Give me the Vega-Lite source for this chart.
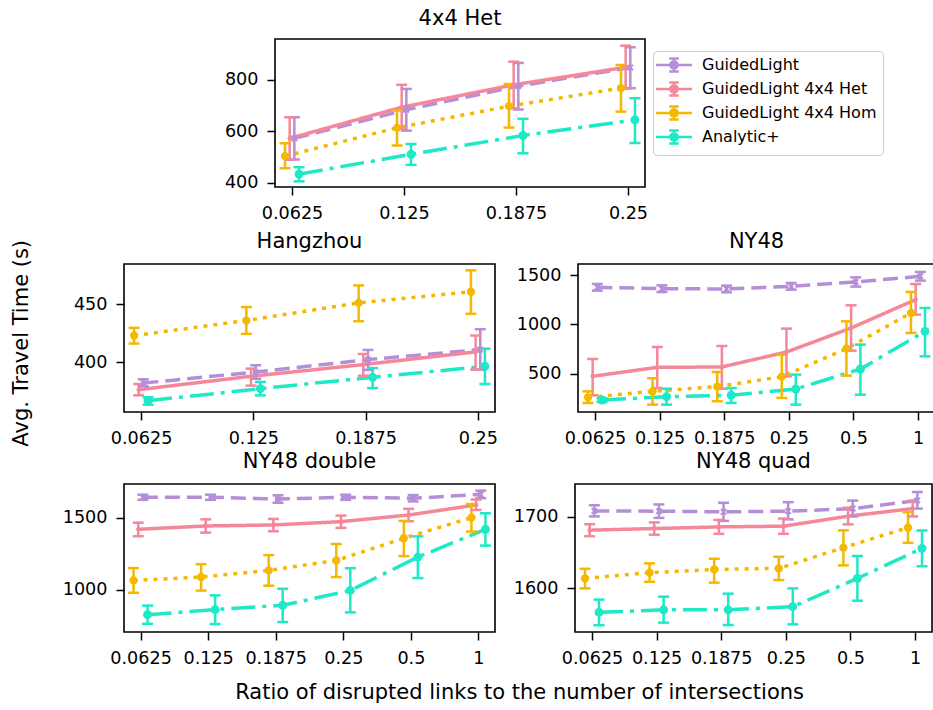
{
  "$schema": "https://vega.github.io/schema/vega-lite/v6.json",
  "padding": {"left": 11, "top": 7, "right": 0, "bottom": 5},
  "config": {
    "font": "DejaVu Sans",
    "view": {"stroke": "black", "strokeWidth": 1.6},
    "axis": {"grid": false, "domain": false, "tickColor": "black", "tickSize": 8, "tickWidth": 1.5, "labelColor": "black", "labelFontSize": 17.6, "labelPadding": 9, "titleColor": "black", "titleFontSize": 21, "titleFontWeight": "normal", "labelOverlap": false},
    "axisX": {"labelAngle": 0},
    "axisY": {"format": "d"},
    "title": {"fontSize": 21, "fontWeight": "normal", "color": "black", "offset": 10, "frame": "group"}
  },
  "title": {"text": "Ratio of disrupted links to the number of intersections", "orient": "bottom", "anchor": "middle", "frame": "bounds", "offset": 15, "dx": 46, "fontSize": 21, "fontWeight": "normal", "color": "black"},
  "resolve": {"legend": {"color": "independent"}},
  "data": {"values": [
    {"p": "4x4 Het", "m": "GuidedLight", "r": 0.0625, "y": 573, "lo": 491, "hi": 655},
    {"p": "4x4 Het", "m": "GuidedLight", "r": 0.125, "y": 684, "lo": 603, "hi": 765},
    {"p": "4x4 Het", "m": "GuidedLight", "r": 0.1875, "y": 776, "lo": 685, "hi": 866},
    {"p": "4x4 Het", "m": "GuidedLight", "r": 0.25, "y": 848, "lo": 768, "hi": 927},
    {"p": "4x4 Het", "m": "GuidedLight 4x4 Het", "r": 0.0625, "y": 573, "lo": 490, "hi": 655},
    {"p": "4x4 Het", "m": "GuidedLight 4x4 Het", "r": 0.125, "y": 694, "lo": 610, "hi": 781},
    {"p": "4x4 Het", "m": "GuidedLight 4x4 Het", "r": 0.1875, "y": 781, "lo": 690, "hi": 871},
    {"p": "4x4 Het", "m": "GuidedLight 4x4 Het", "r": 0.25, "y": 849, "lo": 766, "hi": 933},
    {"p": "4x4 Het", "m": "GuidedLight 4x4 Hom", "r": 0.0625, "y": 504, "lo": 457, "hi": 554},
    {"p": "4x4 Het", "m": "GuidedLight 4x4 Hom", "r": 0.125, "y": 614, "lo": 545, "hi": 681},
    {"p": "4x4 Het", "m": "GuidedLight 4x4 Hom", "r": 0.1875, "y": 698, "lo": 615, "hi": 784},
    {"p": "4x4 Het", "m": "GuidedLight 4x4 Hom", "r": 0.25, "y": 768, "lo": 677, "hi": 858},
    {"p": "4x4 Het", "m": "Analytic+", "r": 0.0625, "y": 434, "lo": 406, "hi": 461},
    {"p": "4x4 Het", "m": "Analytic+", "r": 0.125, "y": 511, "lo": 470, "hi": 551},
    {"p": "4x4 Het", "m": "Analytic+", "r": 0.1875, "y": 584, "lo": 515, "hi": 649},
    {"p": "4x4 Het", "m": "Analytic+", "r": 0.25, "y": 645, "lo": 555, "hi": 729},

    {"p": "Hangzhou", "m": "GuidedLight", "r": 0.0625, "y": 382, "lo": 379.2, "hi": 385.3},
    {"p": "Hangzhou", "m": "GuidedLight", "r": 0.125, "y": 391.6, "lo": 385.8, "hi": 397.4},
    {"p": "Hangzhou", "m": "GuidedLight", "r": 0.1875, "y": 402.3, "lo": 393.4, "hi": 410.7},
    {"p": "Hangzhou", "m": "GuidedLight", "r": 0.25, "y": 411, "lo": 393.6, "hi": 428.6},
    {"p": "Hangzhou", "m": "GuidedLight 4x4 Het", "r": 0.0625, "y": 376.3, "lo": 371.4, "hi": 381.2},
    {"p": "Hangzhou", "m": "GuidedLight 4x4 Het", "r": 0.125, "y": 387.9, "lo": 379.8, "hi": 394.5},
    {"p": "Hangzhou", "m": "GuidedLight 4x4 Het", "r": 0.1875, "y": 398, "lo": 388.4, "hi": 407.2},
    {"p": "Hangzhou", "m": "GuidedLight 4x4 Het", "r": 0.25, "y": 409, "lo": 393.6, "hi": 423.1},
    {"p": "Hangzhou", "m": "GuidedLight 4x4 Hom", "r": 0.0625, "y": 423.1, "lo": 416.2, "hi": 429.8},
    {"p": "Hangzhou", "m": "GuidedLight 4x4 Hom", "r": 0.125, "y": 436.1, "lo": 424.6, "hi": 447.7},
    {"p": "Hangzhou", "m": "GuidedLight 4x4 Hom", "r": 0.1875, "y": 451.4, "lo": 435.5, "hi": 466.5},
    {"p": "Hangzhou", "m": "GuidedLight 4x4 Hom", "r": 0.25, "y": 461, "lo": 441.9, "hi": 479.5},
    {"p": "Hangzhou", "m": "Analytic+", "r": 0.0625, "y": 366.8, "lo": 363.3, "hi": 369.7},
    {"p": "Hangzhou", "m": "Analytic+", "r": 0.125, "y": 377.2, "lo": 371.4, "hi": 383},
    {"p": "Hangzhou", "m": "Analytic+", "r": 0.1875, "y": 387, "lo": 377.7, "hi": 395},
    {"p": "Hangzhou", "m": "Analytic+", "r": 0.25, "y": 396.5, "lo": 381.2, "hi": 411.8},

    {"p": "NY48", "m": "GuidedLight", "r": 0.0625, "y": 1378, "lo": 1344, "hi": 1412},
    {"p": "NY48", "m": "GuidedLight", "r": 0.125, "y": 1364, "lo": 1330, "hi": 1398},
    {"p": "NY48", "m": "GuidedLight", "r": 0.1875, "y": 1361, "lo": 1327, "hi": 1395},
    {"p": "NY48", "m": "GuidedLight", "r": 0.25, "y": 1388, "lo": 1354, "hi": 1422},
    {"p": "NY48", "m": "GuidedLight", "r": 0.5, "y": 1432, "lo": 1385, "hi": 1479},
    {"p": "NY48", "m": "GuidedLight", "r": 1, "y": 1490, "lo": 1446, "hi": 1534},
    {"p": "NY48", "m": "GuidedLight 4x4 Het", "r": 0.0625, "y": 473, "lo": 280, "hi": 649},
    {"p": "NY48", "m": "GuidedLight 4x4 Het", "r": 0.125, "y": 564, "lo": 354, "hi": 771},
    {"p": "NY48", "m": "GuidedLight 4x4 Het", "r": 0.1875, "y": 568, "lo": 347, "hi": 781},
    {"p": "NY48", "m": "GuidedLight 4x4 Het", "r": 0.25, "y": 720, "lo": 473, "hi": 958},
    {"p": "NY48", "m": "GuidedLight 4x4 Het", "r": 0.5, "y": 964, "lo": 734, "hi": 1195},
    {"p": "NY48", "m": "GuidedLight 4x4 Het", "r": 1, "y": 1253, "lo": 1100, "hi": 1412},
    {"p": "NY48", "m": "GuidedLight 4x4 Hom", "r": 0.0625, "y": 259, "lo": 202, "hi": 320},
    {"p": "NY48", "m": "GuidedLight 4x4 Hom", "r": 0.125, "y": 320, "lo": 185, "hi": 453},
    {"p": "NY48", "m": "GuidedLight 4x4 Hom", "r": 0.1875, "y": 368, "lo": 219, "hi": 517},
    {"p": "NY48", "m": "GuidedLight 4x4 Hom", "r": 0.25, "y": 469, "lo": 253, "hi": 693},
    {"p": "NY48", "m": "GuidedLight 4x4 Hom", "r": 0.5, "y": 754, "lo": 480, "hi": 1032},
    {"p": "NY48", "m": "GuidedLight 4x4 Hom", "r": 1, "y": 1117, "lo": 914, "hi": 1331},
    {"p": "NY48", "m": "Analytic+", "r": 0.0625, "y": 232, "lo": 212, "hi": 252},
    {"p": "NY48", "m": "Analytic+", "r": 0.125, "y": 266, "lo": 185, "hi": 347},
    {"p": "NY48", "m": "Analytic+", "r": 0.1875, "y": 280, "lo": 202, "hi": 354},
    {"p": "NY48", "m": "Analytic+", "r": 0.25, "y": 344, "lo": 185, "hi": 490},
    {"p": "NY48", "m": "Analytic+", "r": 0.5, "y": 547, "lo": 286, "hi": 795},
    {"p": "NY48", "m": "Analytic+", "r": 1, "y": 930, "lo": 676, "hi": 1168},

    {"p": "NY48 double", "m": "GuidedLight", "r": 0.0625, "y": 1641, "lo": 1623, "hi": 1659},
    {"p": "NY48 double", "m": "GuidedLight", "r": 0.125, "y": 1641, "lo": 1623, "hi": 1659},
    {"p": "NY48 double", "m": "GuidedLight", "r": 0.1875, "y": 1629, "lo": 1603, "hi": 1655},
    {"p": "NY48 double", "m": "GuidedLight", "r": 0.25, "y": 1641, "lo": 1623, "hi": 1659},
    {"p": "NY48 double", "m": "GuidedLight", "r": 0.5, "y": 1634, "lo": 1612, "hi": 1656},
    {"p": "NY48 double", "m": "GuidedLight", "r": 1, "y": 1661, "lo": 1635, "hi": 1687},
    {"p": "NY48 double", "m": "GuidedLight 4x4 Het", "r": 0.0625, "y": 1419, "lo": 1371, "hi": 1465},
    {"p": "NY48 double", "m": "GuidedLight 4x4 Het", "r": 0.125, "y": 1442, "lo": 1396, "hi": 1488},
    {"p": "NY48 double", "m": "GuidedLight 4x4 Het", "r": 0.1875, "y": 1449, "lo": 1405, "hi": 1491},
    {"p": "NY48 double", "m": "GuidedLight 4x4 Het", "r": 0.25, "y": 1472, "lo": 1429, "hi": 1514},
    {"p": "NY48 double", "m": "GuidedLight 4x4 Het", "r": 0.5, "y": 1518, "lo": 1475, "hi": 1561},
    {"p": "NY48 double", "m": "GuidedLight 4x4 Het", "r": 1, "y": 1588, "lo": 1553, "hi": 1625},
    {"p": "NY48 double", "m": "GuidedLight 4x4 Hom", "r": 0.0625, "y": 1065, "lo": 979, "hi": 1150},
    {"p": "NY48 double", "m": "GuidedLight 4x4 Hom", "r": 0.125, "y": 1088, "lo": 994, "hi": 1177},
    {"p": "NY48 double", "m": "GuidedLight 4x4 Hom", "r": 0.1875, "y": 1134, "lo": 1028, "hi": 1240},
    {"p": "NY48 double", "m": "GuidedLight 4x4 Hom", "r": 0.25, "y": 1203, "lo": 1088, "hi": 1317},
    {"p": "NY48 double", "m": "GuidedLight 4x4 Hom", "r": 0.5, "y": 1357, "lo": 1233, "hi": 1477},
    {"p": "NY48 double", "m": "GuidedLight 4x4 Hom", "r": 1, "y": 1500, "lo": 1403, "hi": 1594},
    {"p": "NY48 double", "m": "Analytic+", "r": 0.0625, "y": 827, "lo": 764, "hi": 890},
    {"p": "NY48 double", "m": "Analytic+", "r": 0.125, "y": 862, "lo": 762, "hi": 961},
    {"p": "NY48 double", "m": "Analytic+", "r": 0.1875, "y": 892, "lo": 776, "hi": 1007},
    {"p": "NY48 double", "m": "Analytic+", "r": 0.25, "y": 995, "lo": 843, "hi": 1149},
    {"p": "NY48 double", "m": "Analytic+", "r": 0.5, "y": 1226, "lo": 1081, "hi": 1370},
    {"p": "NY48 double", "m": "Analytic+", "r": 1, "y": 1419, "lo": 1306, "hi": 1530},

    {"p": "NY48 quad", "m": "GuidedLight", "r": 0.0625, "y": 1708.4, "lo": 1700.7, "hi": 1716.3},
    {"p": "NY48 quad", "m": "GuidedLight", "r": 0.125, "y": 1708, "lo": 1698.6, "hi": 1717.4},
    {"p": "NY48 quad", "m": "GuidedLight", "r": 0.1875, "y": 1707, "lo": 1694.4, "hi": 1719.7},
    {"p": "NY48 quad", "m": "GuidedLight", "r": 0.25, "y": 1708, "lo": 1696.5, "hi": 1720.6},
    {"p": "NY48 quad", "m": "GuidedLight", "r": 0.5, "y": 1711.6, "lo": 1700.6, "hi": 1722.8},
    {"p": "NY48 quad", "m": "GuidedLight", "r": 1, "y": 1723, "lo": 1711.6, "hi": 1734.8},
    {"p": "NY48 quad", "m": "GuidedLight 4x4 Het", "r": 0.0625, "y": 1681.4, "lo": 1673, "hi": 1689.8},
    {"p": "NY48 quad", "m": "GuidedLight 4x4 Het", "r": 0.125, "y": 1683.7, "lo": 1675.1, "hi": 1692.3},
    {"p": "NY48 quad", "m": "GuidedLight 4x4 Het", "r": 0.1875, "y": 1686, "lo": 1676.3, "hi": 1695.8},
    {"p": "NY48 quad", "m": "GuidedLight 4x4 Het", "r": 0.25, "y": 1687, "lo": 1676.3, "hi": 1697.7},
    {"p": "NY48 quad", "m": "GuidedLight 4x4 Het", "r": 0.5, "y": 1701, "lo": 1689.5, "hi": 1712.8},
    {"p": "NY48 quad", "m": "GuidedLight 4x4 Het", "r": 1, "y": 1711.6, "lo": 1700.6, "hi": 1722.3},
    {"p": "NY48 quad", "m": "GuidedLight 4x4 Hom", "r": 0.0625, "y": 1614, "lo": 1600, "hi": 1627.4},
    {"p": "NY48 quad", "m": "GuidedLight 4x4 Hom", "r": 0.125, "y": 1622, "lo": 1609.3, "hi": 1635},
    {"p": "NY48 quad", "m": "GuidedLight 4x4 Hom", "r": 0.1875, "y": 1626.5, "lo": 1608, "hi": 1641.4},
    {"p": "NY48 quad", "m": "GuidedLight 4x4 Hom", "r": 0.25, "y": 1628, "lo": 1611.6, "hi": 1644.2},
    {"p": "NY48 quad", "m": "GuidedLight 4x4 Hom", "r": 0.5, "y": 1657, "lo": 1632.2, "hi": 1681.2},
    {"p": "NY48 quad", "m": "GuidedLight 4x4 Hom", "r": 1, "y": 1685, "lo": 1663.7, "hi": 1706.6},
    {"p": "NY48 quad", "m": "Analytic+", "r": 0.0625, "y": 1566.5, "lo": 1548.4, "hi": 1584.3},
    {"p": "NY48 quad", "m": "Analytic+", "r": 0.125, "y": 1570, "lo": 1552.1, "hi": 1588.4},
    {"p": "NY48 quad", "m": "Analytic+", "r": 0.1875, "y": 1570, "lo": 1548.8, "hi": 1592.6},
    {"p": "NY48 quad", "m": "Analytic+", "r": 0.25, "y": 1574.4, "lo": 1549.7, "hi": 1600},
    {"p": "NY48 quad", "m": "Analytic+", "r": 0.5, "y": 1614, "lo": 1582.8, "hi": 1645.3},
    {"p": "NY48 quad", "m": "Analytic+", "r": 1, "y": 1656, "lo": 1631, "hi": 1681}
  ]},
  "vconcat": [
  {
  "title": {"text": "Avg. Travel Time (s)", "orient": "left", "anchor": "middle", "frame": "bounds", "offset": 29, "dx": -6, "fontSize": 21, "fontWeight": "normal", "color": "black"},
  "resolve": {"legend": {"color": "independent"}},
  "spacing": 7,
  "vconcat": [
    {
      "resolve": {"legend": {"color": "independent"}},
      "spacing": 15,
      "hconcat": [
        {"width": 75, "height": 148, "view": {"stroke": null}, "data": {"values": []}, "mark": "point"},
        {
          "title": "4x4 Het",
          "width": 370, "height": 148,
          "transform": [{"filter": "datum.p === '4x4 Het'"}],
          "encoding": {
            "x": {"field": "r", "type": "ordinal", "scale": {"type": "point", "padding": 0.152}, "axis": {"title": null}},
            "xOffset": {"field": "m", "type": "nominal", "scale": {"type": "point", "domain": ["GuidedLight 4x4 Hom", "GuidedLight 4x4 Het", "GuidedLight", "Analytic+"], "range": [-7, 7], "padding": 0}},
            "color": {"field": "m", "type": "nominal", "scale": {"domain": ["GuidedLight", "GuidedLight 4x4 Het", "GuidedLight 4x4 Hom", "Analytic+"], "range": ["#b48fd8", "#f5879a", "#f5b800", "#1de9c6"]},
              "legend": {"title": null, "orient": "none", "legendX": 378, "legendY": 12, "symbolType": "M-3,0H3M0,-1.1V1.1M-0.8,-1.1H0.8M-0.8,1.1H0.8M-0.6,0A0.6,0.6 0 1,0 0.6,0A0.6,0.6 0 1,0 -0.6,0Z", "symbolSize": 144, "symbolStrokeWidth": 2.5, "symbolOpacity": 1, "symbolOffset": 7, "labelFontSize": 16, "labelColor": "black", "labelOffset": 20, "labelLimit": 400, "padding": 6, "rowPadding": 0, "strokeColor": "#cccccc", "cornerRadius": 4, "fillColor": "white"}}
          },
          "layer": [
            {"mark": {"type": "line", "strokeWidth": 3.5}, "encoding": {
              "y": {"field": "y", "type": "quantitative", "scale": {"domain": [384, 959], "nice": false, "zero": false}, "axis": {"title": null, "values": [400, 600, 800], "minExtent": 60}},
              "strokeDash": {"field": "m", "type": "nominal", "scale": {"domain": ["GuidedLight", "GuidedLight 4x4 Het", "GuidedLight 4x4 Hom", "Analytic+"], "range": [[15, 7], [1, 0], [4, 6], [24, 7, 4, 7]]}, "legend": null}}},
            {"mark": {"type": "rule", "strokeWidth": 2.5}, "encoding": {"y": {"field": "lo", "type": "quantitative", "scale": {"domain": [384, 959], "nice": false, "zero": false}}, "y2": {"field": "hi"}}},
            {"mark": {"type": "tick", "thickness": 2.5, "size": 11, "opacity": 1}, "encoding": {"y": {"field": "lo", "type": "quantitative", "scale": {"domain": [384, 959], "nice": false, "zero": false}}}},
            {"mark": {"type": "tick", "thickness": 2.5, "size": 11, "opacity": 1}, "encoding": {"y": {"field": "hi", "type": "quantitative", "scale": {"domain": [384, 959], "nice": false, "zero": false}}}},
            {"mark": {"type": "point", "filled": true, "opacity": 1}, "encoding": {
              "y": {"field": "y", "type": "quantitative", "scale": {"domain": [384, 959], "nice": false, "zero": false}},
              "shape": {"field": "m", "type": "nominal", "scale": {"domain": ["GuidedLight", "GuidedLight 4x4 Het", "GuidedLight 4x4 Hom", "Analytic+"], "range": ["M-1,-0.6L-0.6,-1L0,-0.4L0.6,-1L1,-0.6L0.4,0L1,0.6L0.6,1L0,0.4L-0.6,1L-1,0.6L-0.4,0Z", "M0,-1L0.65,0L0,1L-0.65,0Z", "circle", "circle"]}, "legend": null},
              "size": {"field": "m", "type": "ordinal", "scale": {"domain": ["GuidedLight", "GuidedLight 4x4 Het", "GuidedLight 4x4 Hom", "Analytic+"], "range": [45, 80, 30, 70]}, "legend": null}}}
          ]
        }
      ]
    },
    {
    "spacing": 2,
    "vconcat": [
    {
      "hconcat": [
        {
          "title": {"text": "Hangzhou", "offset": 12},
          "width": 371, "height": 148,
          "transform": [{"filter": "datum.p === 'Hangzhou'"}],
          "encoding": {
            "x": {"field": "r", "type": "ordinal", "scale": {"type": "point", "padding": 0.152}, "axis": {"title": null}},
            "xOffset": {"field": "m", "type": "nominal", "scale": {"type": "point", "domain": ["GuidedLight 4x4 Hom", "GuidedLight 4x4 Het", "GuidedLight", "Analytic+"], "range": [-7, 7], "padding": 0}},
            "color": {"field": "m", "type": "nominal", "scale": {"domain": ["GuidedLight", "GuidedLight 4x4 Het", "GuidedLight 4x4 Hom", "Analytic+"], "range": ["#b48fd8", "#f5879a", "#f5b800", "#1de9c6"]}, "legend": null}
          },
          "layer": [
            {"mark": {"type": "line", "strokeWidth": 3.5}, "encoding": {
              "y": {"field": "y", "type": "quantitative", "scale": {"domain": [357, 485], "nice": false, "zero": false}, "axis": {"title": null, "values": [400, 450]}},
              "strokeDash": {"field": "m", "type": "nominal", "scale": {"domain": ["GuidedLight", "GuidedLight 4x4 Het", "GuidedLight 4x4 Hom", "Analytic+"], "range": [[15, 7], [1, 0], [4, 6], [24, 7, 4, 7]]}, "legend": null}}},
            {"mark": {"type": "rule", "strokeWidth": 2.5}, "encoding": {"y": {"field": "lo", "type": "quantitative", "scale": {"domain": [357, 485], "nice": false, "zero": false}}, "y2": {"field": "hi"}}},
            {"mark": {"type": "tick", "thickness": 2.5, "size": 11, "opacity": 1}, "encoding": {"y": {"field": "lo", "type": "quantitative", "scale": {"domain": [357, 485], "nice": false, "zero": false}}}},
            {"mark": {"type": "tick", "thickness": 2.5, "size": 11, "opacity": 1}, "encoding": {"y": {"field": "hi", "type": "quantitative", "scale": {"domain": [357, 485], "nice": false, "zero": false}}}},
            {"mark": {"type": "point", "filled": true, "opacity": 1}, "encoding": {
              "y": {"field": "y", "type": "quantitative", "scale": {"domain": [357, 485], "nice": false, "zero": false}},
              "shape": {"field": "m", "type": "nominal", "scale": {"domain": ["GuidedLight", "GuidedLight 4x4 Het", "GuidedLight 4x4 Hom", "Analytic+"], "range": ["M-1,-0.6L-0.6,-1L0,-0.4L0.6,-1L1,-0.6L0.4,0L1,0.6L0.6,1L0,0.4L-0.6,1L-1,0.6L-0.4,0Z", "M0,-1L0.65,0L0,1L-0.65,0Z", "circle", "circle"]}, "legend": null},
              "size": {"field": "m", "type": "ordinal", "scale": {"domain": ["GuidedLight", "GuidedLight 4x4 Het", "GuidedLight 4x4 Hom", "Analytic+"], "range": [45, 80, 30, 70]}, "legend": null}}}
          ]
        },
        {
          "title": {"text": "NY48", "offset": 12},
          "width": 357, "height": 148,
          "transform": [{"filter": "datum.p === 'NY48'"}],
          "encoding": {
            "x": {"field": "r", "type": "ordinal", "scale": {"type": "point", "padding": 0.263}, "axis": {"title": null}},
            "xOffset": {"field": "m", "type": "nominal", "scale": {"type": "point", "domain": ["GuidedLight 4x4 Hom", "GuidedLight 4x4 Het", "GuidedLight", "Analytic+"], "range": [-7, 7], "padding": 0}},
            "color": {"field": "m", "type": "nominal", "scale": {"domain": ["GuidedLight", "GuidedLight 4x4 Het", "GuidedLight 4x4 Hom", "Analytic+"], "range": ["#b48fd8", "#f5879a", "#f5b800", "#1de9c6"]}, "legend": null}
          },
          "layer": [
            {"mark": {"type": "line", "strokeWidth": 3.5}, "encoding": {
              "y": {"field": "y", "type": "quantitative", "scale": {"domain": [110, 1615], "nice": false, "zero": false}, "axis": {"title": null, "values": [500, 1000, 1500]}},
              "strokeDash": {"field": "m", "type": "nominal", "scale": {"domain": ["GuidedLight", "GuidedLight 4x4 Het", "GuidedLight 4x4 Hom", "Analytic+"], "range": [[15, 7], [1, 0], [4, 6], [24, 7, 4, 7]]}, "legend": null}}},
            {"mark": {"type": "rule", "strokeWidth": 2.5}, "encoding": {"y": {"field": "lo", "type": "quantitative", "scale": {"domain": [110, 1615], "nice": false, "zero": false}}, "y2": {"field": "hi"}}},
            {"mark": {"type": "tick", "thickness": 2.5, "size": 11, "opacity": 1}, "encoding": {"y": {"field": "lo", "type": "quantitative", "scale": {"domain": [110, 1615], "nice": false, "zero": false}}}},
            {"mark": {"type": "tick", "thickness": 2.5, "size": 11, "opacity": 1}, "encoding": {"y": {"field": "hi", "type": "quantitative", "scale": {"domain": [110, 1615], "nice": false, "zero": false}}}},
            {"mark": {"type": "point", "filled": true, "opacity": 1}, "encoding": {
              "y": {"field": "y", "type": "quantitative", "scale": {"domain": [110, 1615], "nice": false, "zero": false}},
              "shape": {"field": "m", "type": "nominal", "scale": {"domain": ["GuidedLight", "GuidedLight 4x4 Het", "GuidedLight 4x4 Hom", "Analytic+"], "range": ["M-1,-0.6L-0.6,-1L0,-0.4L0.6,-1L1,-0.6L0.4,0L1,0.6L0.6,1L0,0.4L-0.6,1L-1,0.6L-0.4,0Z", "M0,-1L0.65,0L0,1L-0.65,0Z", "circle", "circle"]}, "legend": null},
              "size": {"field": "m", "type": "ordinal", "scale": {"domain": ["GuidedLight", "GuidedLight 4x4 Het", "GuidedLight 4x4 Hom", "Analytic+"], "range": [45, 80, 30, 70]}, "legend": null}}}
          ]
        }
      ],
      "spacing": 16
    },
    {
      "hconcat": [
        {
          "title": {"text": "NY48 double", "offset": 12},
          "width": 371, "height": 148,
          "transform": [{"filter": "datum.p === 'NY48 double'"}],
          "encoding": {
            "x": {"field": "r", "type": "ordinal", "scale": {"type": "point", "padding": 0.245}, "axis": {"title": null}},
            "xOffset": {"field": "m", "type": "nominal", "scale": {"type": "point", "domain": ["GuidedLight 4x4 Hom", "GuidedLight 4x4 Het", "GuidedLight", "Analytic+"], "range": [-7, 7], "padding": 0}},
            "color": {"field": "m", "type": "nominal", "scale": {"domain": ["GuidedLight", "GuidedLight 4x4 Het", "GuidedLight 4x4 Hom", "Analytic+"], "range": ["#b48fd8", "#f5879a", "#f5b800", "#1de9c6"]}, "legend": null}
          },
          "layer": [
            {"mark": {"type": "line", "strokeWidth": 3.5}, "encoding": {
              "y": {"field": "y", "type": "quantitative", "scale": {"domain": [707, 1733], "nice": false, "zero": false}, "axis": {"title": null, "values": [1000, 1500]}},
              "strokeDash": {"field": "m", "type": "nominal", "scale": {"domain": ["GuidedLight", "GuidedLight 4x4 Het", "GuidedLight 4x4 Hom", "Analytic+"], "range": [[15, 7], [1, 0], [4, 6], [24, 7, 4, 7]]}, "legend": null}}},
            {"mark": {"type": "rule", "strokeWidth": 2.5}, "encoding": {"y": {"field": "lo", "type": "quantitative", "scale": {"domain": [707, 1733], "nice": false, "zero": false}}, "y2": {"field": "hi"}}},
            {"mark": {"type": "tick", "thickness": 2.5, "size": 11, "opacity": 1}, "encoding": {"y": {"field": "lo", "type": "quantitative", "scale": {"domain": [707, 1733], "nice": false, "zero": false}}}},
            {"mark": {"type": "tick", "thickness": 2.5, "size": 11, "opacity": 1}, "encoding": {"y": {"field": "hi", "type": "quantitative", "scale": {"domain": [707, 1733], "nice": false, "zero": false}}}},
            {"mark": {"type": "point", "filled": true, "opacity": 1}, "encoding": {
              "y": {"field": "y", "type": "quantitative", "scale": {"domain": [707, 1733], "nice": false, "zero": false}},
              "shape": {"field": "m", "type": "nominal", "scale": {"domain": ["GuidedLight", "GuidedLight 4x4 Het", "GuidedLight 4x4 Hom", "Analytic+"], "range": ["M-1,-0.6L-0.6,-1L0,-0.4L0.6,-1L1,-0.6L0.4,0L1,0.6L0.6,1L0,0.4L-0.6,1L-1,0.6L-0.4,0Z", "M0,-1L0.65,0L0,1L-0.65,0Z", "circle", "circle"]}, "legend": null},
              "size": {"field": "m", "type": "ordinal", "scale": {"domain": ["GuidedLight", "GuidedLight 4x4 Het", "GuidedLight 4x4 Hom", "Analytic+"], "range": [45, 80, 30, 70]}, "legend": null}}}
          ]
        },
        {
          "title": {"text": "NY48 quad", "offset": 12},
          "width": 357, "height": 148,
          "transform": [{"filter": "datum.p === 'NY48 quad'"}],
          "encoding": {
            "x": {"field": "r", "type": "ordinal", "scale": {"type": "point", "padding": 0.263}, "axis": {"title": null}},
            "xOffset": {"field": "m", "type": "nominal", "scale": {"type": "point", "domain": ["GuidedLight 4x4 Hom", "GuidedLight 4x4 Het", "GuidedLight", "Analytic+"], "range": [-7, 7], "padding": 0}},
            "color": {"field": "m", "type": "nominal", "scale": {"domain": ["GuidedLight", "GuidedLight 4x4 Het", "GuidedLight 4x4 Hom", "Analytic+"], "range": ["#b48fd8", "#f5879a", "#f5b800", "#1de9c6"]}, "legend": null}
          },
          "layer": [
            {"mark": {"type": "line", "strokeWidth": 3.5}, "encoding": {
              "y": {"field": "y", "type": "quantitative", "scale": {"domain": [1539, 1746], "nice": false, "zero": false}, "axis": {"title": null, "values": [1600, 1700]}},
              "strokeDash": {"field": "m", "type": "nominal", "scale": {"domain": ["GuidedLight", "GuidedLight 4x4 Het", "GuidedLight 4x4 Hom", "Analytic+"], "range": [[15, 7], [1, 0], [4, 6], [24, 7, 4, 7]]}, "legend": null}}},
            {"mark": {"type": "rule", "strokeWidth": 2.5}, "encoding": {"y": {"field": "lo", "type": "quantitative", "scale": {"domain": [1539, 1746], "nice": false, "zero": false}}, "y2": {"field": "hi"}}},
            {"mark": {"type": "tick", "thickness": 2.5, "size": 11, "opacity": 1}, "encoding": {"y": {"field": "lo", "type": "quantitative", "scale": {"domain": [1539, 1746], "nice": false, "zero": false}}}},
            {"mark": {"type": "tick", "thickness": 2.5, "size": 11, "opacity": 1}, "encoding": {"y": {"field": "hi", "type": "quantitative", "scale": {"domain": [1539, 1746], "nice": false, "zero": false}}}},
            {"mark": {"type": "point", "filled": true, "opacity": 1}, "encoding": {
              "y": {"field": "y", "type": "quantitative", "scale": {"domain": [1539, 1746], "nice": false, "zero": false}},
              "shape": {"field": "m", "type": "nominal", "scale": {"domain": ["GuidedLight", "GuidedLight 4x4 Het", "GuidedLight 4x4 Hom", "Analytic+"], "range": ["M-1,-0.6L-0.6,-1L0,-0.4L0.6,-1L1,-0.6L0.4,0L1,0.6L0.6,1L0,0.4L-0.6,1L-1,0.6L-0.4,0Z", "M0,-1L0.65,0L0,1L-0.65,0Z", "circle", "circle"]}, "legend": null},
              "size": {"field": "m", "type": "ordinal", "scale": {"domain": ["GuidedLight", "GuidedLight 4x4 Het", "GuidedLight 4x4 Hom", "Analytic+"], "range": [45, 80, 30, 70]}, "legend": null}}}
          ]
        }
      ],
      "spacing": 16
    }
    ]
    }
  ]
  }
  ]
}
